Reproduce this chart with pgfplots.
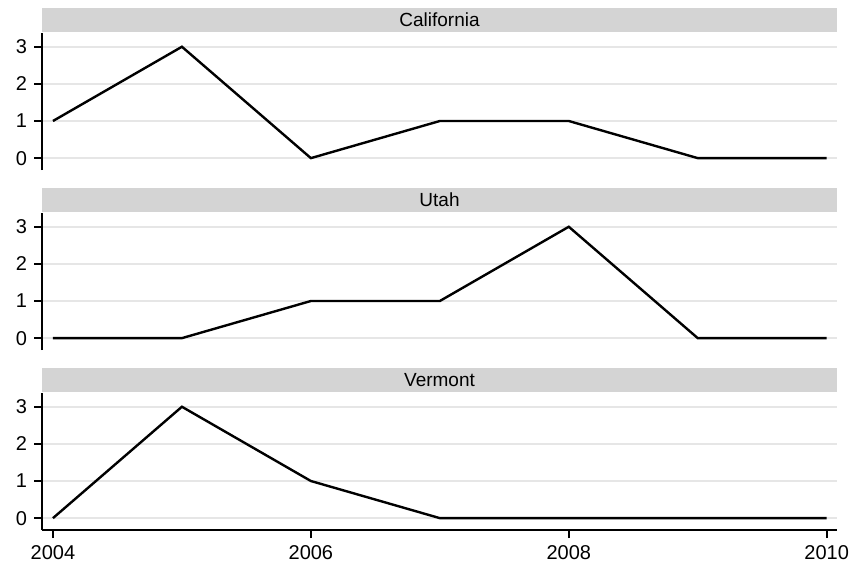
\documentclass[border=0pt]{standalone}
\usepackage{fontspec}
\setmainfont{Liberation Sans}
\usepackage{pgfplots}
\pgfplotsset{compat=1.18}
\definecolor{stripgray}{HTML}{D4D4D4}
\definecolor{gridgray}{HTML}{E6E6E6}
\pgfplotsset{
  panel/.style={
    scale only axis, width=397.5pt, height=68.5pt,
    xmin=2003.915, xmax=2010.08, ymin=-0.32, ymax=3.37,
    axis y line=left,
    y axis line style={line width=1.1pt,-},
    ytick={0,1,2,3}, ymajorgrids,
    major grid style={gridgray, line width=0.8pt},
    tick style={black, line width=1pt},
    major tick length=4pt,
    /pgf/number format/assume math mode=true,
    /pgf/number format/1000 sep={},
    tick label style={font=\fontsize{10}{11}\selectfont},
    clip=false,
  },
}
\newcommand{\strip}[1]{%
  \fill[stripgray] ([yshift=0.5pt]rel axis cs:0,1) rectangle ([yshift=12.5pt]rel axis cs:1,1);
  \node[font=\fontsize{9.5}{10}\selectfont, anchor=center] at ([yshift=6.5pt]rel axis cs:0.5,1) {#1};
}
\begin{document}
\begin{tikzpicture}
\begin{axis}[panel, axis x line=none, at={(21pt,-85pt)}, anchor=south west, ytick align=outside]
\strip{California}
\addplot[black, line width=1.2pt] coordinates {(2004,1) (2005,3) (2006,0) (2007,1) (2008,1) (2009,0) (2010,0)};
\end{axis}
\begin{axis}[panel, axis x line=none, at={(21pt,-175pt)}, anchor=south west, ytick align=outside]
\strip{Utah}
\addplot[black, line width=1.2pt] coordinates {(2004,0) (2005,0) (2006,1) (2007,1) (2008,3) (2009,0) (2010,0)};
\end{axis}
\begin{axis}[panel, at={(21pt,-265pt)}, anchor=south west,
  axis x line=bottom, x axis line style={line width=1.1pt,-},
  xtick={2004,2006,2008,2010}, xtick align=outside, ytick align=outside]
\strip{Vermont}
\addplot[black, line width=1.2pt] coordinates {(2004,0) (2005,3) (2006,1) (2007,0) (2008,0) (2009,0) (2010,0)};
\end{axis}
\pgfresetboundingbox
\path[use as bounding box] (0,0) rectangle (425.5pt,-285pt);
\end{tikzpicture}
\end{document}
